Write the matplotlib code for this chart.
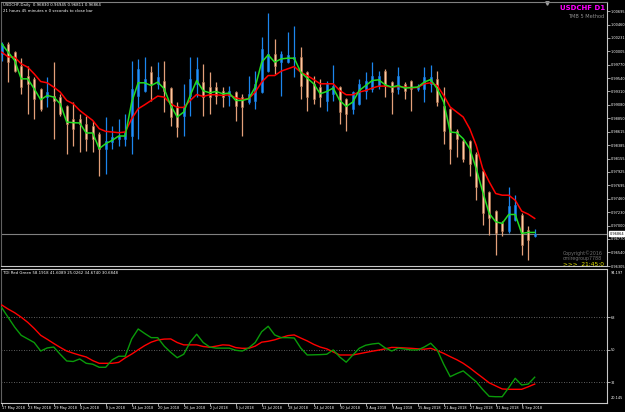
import numpy as np
import matplotlib.pyplot as plt

# USDCHF daily, first bar = 17 May 2018
opens = [0.99957, 1.00128, 0.99991, 0.99751, 0.99579, 0.99527, 0.99356, 0.99218, 0.99236, 0.99218,
         0.99064, 0.98841, 0.98841, 0.98755, 0.98720, 0.98583, 0.98326, 0.98446, 0.98497, 0.98497,
         0.98549, 0.99236, 0.99321, 0.99648, 0.99442, 0.99493, 0.99373, 0.99064, 0.98892, 0.99236,
         0.99442, 0.99476, 0.99390, 0.99390, 0.99321, 0.99236, 0.99304, 0.99218, 0.99133, 0.99150,
         0.99304, 0.99665, 0.99957, 0.99819, 0.99819, 0.99871, 0.99905, 0.99648, 0.99442, 0.99390,
         0.99150, 0.99270, 0.99390, 0.99184, 0.99012, 0.99098, 0.99321, 0.99356, 0.99407, 0.99665,
         0.99476, 0.99356, 0.99442, 0.99493, 0.99356, 0.99356, 0.99442, 0.99527, 0.99064, 0.99012,
         0.98635, 0.98463, 0.98463, 0.98240, 0.97948, 0.97587, 0.97244, 0.97038, 0.96900, 0.97089,
         0.97175, 0.96918, 0.96830]
highs = [1.00163, 1.00163, 1.00000, 0.99888, 0.99751, 0.99562, 0.99370, 0.99562, 0.99819, 0.99270,
         0.99081, 0.99133, 0.98926, 0.98892, 0.98806, 0.98617, 0.98875, 0.98720, 0.98841, 0.98926,
         0.99837, 0.99871, 0.99905, 0.99751, 0.99819, 0.99837, 0.99390, 0.99133, 0.99442, 0.99905,
         0.99905, 0.99785, 0.99648, 0.99476, 0.99390, 0.99407, 0.99321, 0.99270, 0.99579, 0.99665,
         1.00249, 1.00661, 1.00214, 1.00008, 1.00334, 1.00437, 1.00077, 0.99665, 0.99579, 0.99527,
         0.99493, 0.99768, 0.99407, 0.99190, 0.99321, 0.99527, 0.99648, 0.99819, 0.99665, 0.99699,
         0.99493, 0.99733, 0.99476, 0.99500, 0.99442, 0.99733, 0.99768, 0.99665, 0.99390, 0.99020,
         0.98669, 0.98497, 0.98480, 0.98274, 0.97982, 0.97600, 0.97261, 0.97072, 0.97673, 0.97519,
         0.97209, 0.96986, 0.96945]
lows = [0.99837, 0.99476, 0.99648, 0.99270, 0.98926, 0.98841, 0.98978, 0.99047, 0.98497, 0.98892,
        0.98240, 0.98377, 0.98274, 0.98291, 0.98274, 0.97862, 0.97896, 0.98326, 0.98377, 0.98377,
        0.98240, 0.98497, 0.99300, 0.99150, 0.99356, 0.98961, 0.98720, 0.98532, 0.98549, 0.98892,
        0.99218, 0.98892, 0.98926, 0.99098, 0.99047, 0.99064, 0.98806, 0.98549, 0.99098, 0.99012,
        0.99287, 0.99648, 0.99613, 0.99236, 0.99800, 0.99562, 0.99184, 0.98978, 0.99098, 0.99047,
        0.98978, 0.99150, 0.98755, 0.98635, 0.98926, 0.99080, 0.99184, 0.99304, 0.99356, 0.99218,
        0.98926, 0.99270, 0.99184, 0.98978, 0.99321, 0.99133, 0.99304, 0.99064, 0.98411, 0.98068,
        0.98188, 0.98102, 0.97862, 0.97433, 0.97003, 0.96832, 0.96488, 0.96815, 0.96866, 0.97072,
        0.96488, 0.96403, 0.96811]
closes = [1.00128, 0.99819, 0.99665, 0.99390, 0.99442, 0.99184, 0.99012, 0.99304, 0.99150, 0.98926,
          0.98755, 0.98669, 0.98755, 0.98497, 0.98497, 0.98326, 0.98463, 0.98532, 0.98549, 0.98617,
          0.99356, 0.99699, 0.99527, 0.99442, 0.99562, 0.99321, 0.98875, 0.98703, 0.99047, 0.99527,
          0.99699, 0.99218, 0.99218, 0.99236, 0.99218, 0.99321, 0.99064, 0.99047, 0.99270, 0.99442,
          1.00043, 0.99957, 0.99751, 0.99957, 0.99940, 0.99905, 0.99407, 0.99218, 0.99184, 0.99218,
          0.99442, 0.99407, 0.98961, 0.98926, 0.99304, 0.99442, 0.99493, 0.99579, 0.99579, 0.99407,
          0.99304, 0.99579, 0.99321, 0.99356, 0.99407, 0.99562, 0.99562, 0.99133, 0.98635, 0.98326,
          0.98497, 0.98154, 0.98068, 0.97673, 0.97209, 0.97124, 0.96866, 0.96900, 0.97330, 0.97347,
          0.96660, 0.96746, 0.96864]

fast_ma = [1.00128, 0.99986, 0.99842, 0.99527, 0.99527, 0.99356, 0.99167, 0.99241, 0.99213, 0.99098,
           0.98784, 0.98772, 0.98767, 0.98595, 0.98595, 0.98326, 0.98411, 0.98468, 0.98543, 0.98543,
           0.99127, 0.99459, 0.99459, 0.99412, 0.99471, 0.99356, 0.99069, 0.98870, 0.98956, 0.99241,
           0.99498, 0.99321, 0.99287, 0.99309, 0.99270, 0.99282, 0.99155, 0.99155, 0.99184, 0.99385,
           0.99814, 0.99940, 0.99814, 0.99871, 0.99883, 0.99883, 0.99642, 0.99539, 0.99442, 0.99270,
           0.99309, 0.99368, 0.99155, 0.99052, 0.99127, 0.99326, 0.99412, 0.99498, 0.99510, 0.99424,
           0.99385, 0.99412, 0.99368, 0.99378, 0.99385, 0.99471, 0.99515, 0.99356, 0.99127, 0.98612,
           0.98600, 0.98497, 0.98326, 0.97982, 0.97582, 0.97209, 0.97067, 0.97038, 0.97192, 0.97192,
           0.96866, 0.96883, 0.96883]
slow_ma = [0.99986, 0.99905, 0.99900, 0.99785, 0.99728, 0.99613, 0.99481, 0.99459, 0.99385, 0.99299,
           0.99155, 0.99098, 0.98983, 0.98897, 0.98811, 0.98669, 0.98623, 0.98612, 0.98600, 0.98612,
           0.98841, 0.99012, 0.99081, 0.99155, 0.99230, 0.99213, 0.99098, 0.99035, 0.99035, 0.99155,
           0.99258, 0.99224, 0.99253, 0.99253, 0.99241, 0.99253, 0.99201, 0.99172, 0.99184, 0.99299,
           0.99471, 0.99584, 0.99584, 0.99660, 0.99699, 0.99739, 0.99642, 0.99584, 0.99515, 0.99442,
           0.99442, 0.99442, 0.99327, 0.99253, 0.99253, 0.99299, 0.99327, 0.99368, 0.99402, 0.99402,
           0.99385, 0.99395, 0.99385, 0.99373, 0.99378, 0.99442, 0.99459, 0.99412, 0.99241, 0.99042,
           0.98956, 0.98870, 0.98669, 0.98382, 0.97982, 0.97754, 0.97553, 0.97524, 0.97524, 0.97438,
           0.97249, 0.97198, 0.97124]

tdi_green = [73.3, 67.9, 62.5, 58.0, 56.0, 54.0, 49.3, 51.0, 51.5, 47.5,
             43.8, 43.5, 44.9, 42.5, 42.0, 40.3, 40.3, 44.4, 46.4, 46.4,
             56.0, 61.5, 59.0, 56.7, 56.7, 52.0, 48.6, 45.6, 47.5, 54.2,
             58.6, 54.0, 51.5, 50.9, 50.9, 50.9, 49.7, 49.3, 51.0, 54.0,
             60.0, 63.0, 58.2, 56.7, 56.7, 56.5, 51.0, 47.1, 47.2, 47.3,
             47.5, 49.9, 46.0, 43.1, 47.0, 50.8, 52.5, 53.2, 53.6, 51.0,
             49.3, 50.9, 50.4, 49.9, 49.9, 51.5, 53.6, 49.9, 42.0, 35.1,
             36.8, 38.3, 35.3, 32.3, 28.0, 24.2, 24.0, 24.0, 29.0, 34.2,
             30.5, 31.0, 34.8]
tdi_red = [74.8, 72.5, 70.5, 68.0, 65.2, 61.8, 58.0, 55.8, 53.5, 51.3,
           49.3, 48.1, 47.0, 46.0, 44.0, 42.5, 42.5, 42.5, 43.0, 45.5,
           47.6, 50.0, 52.3, 54.2, 55.4, 55.9, 56.0, 54.0, 52.7, 52.7,
           52.7, 51.8, 51.4, 52.0, 52.7, 52.5, 51.2, 50.8, 50.8, 52.0,
           54.2, 54.7, 55.5, 56.7, 57.8, 58.2, 56.5, 54.9, 53.0, 51.5,
           50.5, 48.8, 47.1, 47.1, 47.1, 47.8, 48.5, 49.2, 49.8, 50.5,
           51.3, 51.2, 51.0, 50.8, 50.5, 50.3, 50.8, 49.5, 48.0, 46.2,
           44.5, 42.5, 40.0, 37.2, 34.5, 31.7, 30.0, 28.3, 28.1, 28.1,
           28.1, 29.5, 31.0]

date_labels = ['17 May 2018', '23 May 2018', '29 May 2018', '4 Jun 2018', '8 Jun 2018',
               '14 Jun 2018', '20 Jun 2018', '26 Jun 2018', '2 Jul 2018', '6 Jul 2018',
               '12 Jul 2018', '18 Jul 2018', '24 Jul 2018', '30 Jul 2018', '3 Aug 2018',
               '9 Aug 2018', '15 Aug 2018', '21 Aug 2018', '27 Aug 2018', '31 Aug 2018',
               '6 Sep 2018']
price_ticks = [1.00695, 1.00460, 1.00231, 1.00005, 0.99770, 0.99540, 0.99310, 0.99080,
               0.98850, 0.98615, 0.98385, 0.98155, 0.97925, 0.97695, 0.97460, 0.97230,
               0.97000, 0.96770, 0.96540, 0.96305]
tdi_levels = [68, 50, 32]

W, H = 625, 412
fig = plt.figure(figsize=(6.25, 4.12), dpi=100, facecolor='black')


def fx(px):
    return px / W


def fy(py):
    return 1 - py / H


ax = fig.add_axes([fx(1), fy(266), fx(606), (266 - 2) / H], facecolor='black')
ax2 = fig.add_axes([fx(1), fy(402.5), fx(606), (402.5 - 269) / H], facecolor='black')

x = np.arange(len(opens))
o = np.array(opens)
c = np.array(closes)
up = c >= o

# candles
wick_col = np.where(up, '#1C86EE', '#E4A07A')
ax.vlines(x, lows, highs, colors=wick_col, linewidth=0.9, zorder=2)
body_h = np.maximum(np.abs(c - o), 0.00004)
ax.bar(x[up], body_h[up], bottom=np.minimum(o, c)[up], width=0.36,
       color='#1E90FF', edgecolor='#1C7CD8', linewidth=0.4, zorder=3)
ax.bar(x[~up], body_h[~up], bottom=np.minimum(o, c)[~up], width=0.36,
       color='#FFC8A0', edgecolor='#B0704C', linewidth=0.4, zorder=3)

ax.plot(x, slow_ma, color='#FF0000', lw=1.1, zorder=4)
ax.plot(x, fast_ma, color='#22DD22', lw=1.1, zorder=5)
ax.axhline(closes[-1], color='#808080', lw=0.8, zorder=1)

xlim = ((1 - 1.7) / 6.5, (607 - 1.7) / 6.5)
ax.set_xlim(xlim)
ax.set_ylim(0.96334, 1.00850)
ax.yaxis.tick_right()
ax.set_yticks(price_ticks)
ax.set_yticklabels(['%.5f' % p for p in price_ticks])
ax.tick_params(axis='y', direction='out', length=2, width=0.6, color='#C0C0C0',
               labelsize=2.5, labelcolor='white', pad=0.8)
ax.set_xticks([])
for s in ax.spines.values():
    s.set_color('#C8C8C8')
    s.set_linewidth(0.8)
ax.spines['left'].set_color('#606060')
ax.spines['top'].set_color('#808080')

# current price box
ax.text(1.004, closes[-1], '%.5f' % closes[-1], transform=ax.get_yaxis_transform(),
        fontsize=2.5, color='black', va='center', ha='left',
        bbox=dict(boxstyle='square,pad=0.15', fc='white', ec='white'))
ax.plot([(546.5 - 1.7) / 6.5], [1.0083], marker='v', color='#A0A0A0', ms=2.5, clip_on=False)

# TDI panel
ax2.plot(x, tdi_red, color='#FF0000', lw=1.0, zorder=3)
ax2.plot(x, tdi_green, color='#0A9A0A', lw=1.0, zorder=4)
for lv in tdi_levels:
    ax2.axhline(lv, color='#808080', lw=0.6, ls=(0, (1, 2)), zorder=1)
ax2.set_xlim(xlim)
ax2.set_ylim(20.8, 94.7)
ax2.yaxis.tick_right()
ax2.set_yticks(tdi_levels)
ax2.set_yticklabels([str(v) for v in tdi_levels])
ax2.tick_params(axis='y', direction='out', length=2, width=0.6, color='#C0C0C0',
                labelsize=2.5, labelcolor='white', pad=0.8)
ax2.set_xticks(np.arange(0, len(date_labels) * 4, 4))
ax2.set_xticklabels(date_labels, ha='left')
ax2.tick_params(axis='x', direction='out', length=2, width=0.6, color='#C0C0C0',
                labelsize=2.5, labelcolor='white', pad=0.8)
for s in ax2.spines.values():
    s.set_color('#C8C8C8')
    s.set_linewidth(0.8)
ax2.spines['left'].set_color('#606060')
ax2.text(1.006, 0.985, '94.197', transform=ax2.transAxes, fontsize=2.5, color='white',
         va='top', ha='left')
ax2.text(1.006, 0.02, '20.145', transform=ax2.transAxes, fontsize=2.5, color='white',
         va='bottom', ha='left')

# texts
fig.text(fx(3), fy(5), 'USDCHF,Daily  0.96830 0.96945 0.96811 0.96864', fontsize=2.8,
         color='white', va='center')
fig.text(fx(3), fy(10.5), '21 hours 45 minutes n 0 seconds to close bar', fontsize=2.8,
         color='white', va='center')
fig.text(fx(605), fy(8), 'USDCHF D1', fontsize=5, color='#FF00FF', fontweight='bold',
         va='center', ha='right')
fig.text(fx(604), fy(17), 'TMB 5 Method', fontsize=3.6, color='#909090', va='center', ha='right')
fig.text(fx(563), fy(253), 'Copyright\u00a92016', fontsize=3.4, color='#707070', va='center')
fig.text(fx(563), fy(258.5), 'cmiregroup7788', fontsize=3.4, color='#707070', va='center')
fig.text(fx(563), fy(264.5), '>>>  21:45:0', fontsize=4.2, color='#E6E600', va='center')
fig.text(fx(3), fy(273), 'TDI Red Green 58.1918 41.6089 25.0262 34.6740 30.6848', fontsize=2.8,
         color='white', va='center')

fig.savefig('out.png', dpi=100, facecolor='black')
